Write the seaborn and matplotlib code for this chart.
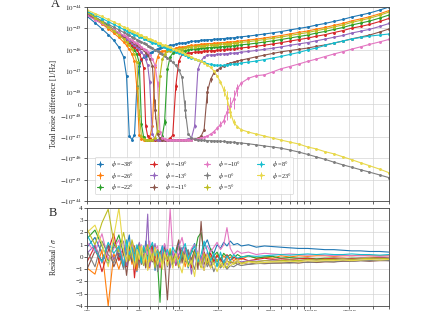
import numpy as np
import pandas as pd
import matplotlib
matplotlib.use("Agg")
import matplotlib.pyplot as plt
import seaborn as sns
from matplotlib.ticker import NullLocator, NullFormatter, FixedLocator, FixedFormatter, LogLocator

# ---------------- data ----------------
freq = [20, 23, 26, 29, 32, 35, 38, 40, 42, 44, 46, 48, 50,
        52, 54, 56, 58, 60, 63, 66, 69, 72, 75, 78, 82, 86,
        90, 95, 100, 106, 112, 118, 125, 132, 140, 148, 156, 165, 175,
        185, 196, 208, 220, 233, 247, 262, 280, 300, 340, 390, 450, 520,
        600, 700, 820, 960, 1120, 1300, 1520, 1780, 2080, 2430, 2840, 3400, 4000]

angles = [-38, -26, -22, -19, -13, -11, -10, 0, 5, 8, 23]
UNIT = 1e-47  # values below are in units of 1e-47 1/Hz

tnd_m38 = [370, 182, 95, 51, 27, 13, 4.5, 0.58, -0.9, -1.3, -0.8, 0.2, 1.7,
           3.3, 4.5, 5.2, 6.2, 7.0, 7.7, 9.6, 11, 12, 13, 13.5, 15, 16,
           16.5, 18, 19.5, 20, 21, 23, 24, 25, 26, 27, 28, 29, 29.5,
           30, 31, 32, 33, 34, 35, 36, 38, 40, 43, 48, 54, 61,
           70, 83, 98, 115, 142, 168, 210, 260, 340, 420, 520, 720, 1000]
tnd_m26 = [520, 278, 160, 97, 60, 37, 22.6, 15.7, 10.4, 6.1, 2.8, 0.15, -0.8,
           -1.2, -1.33, -1.35, -1.3, -1.1, -0.3, 1.5, 4.5, 7.8, 8.5, 8.8, 9.8, 10.4,
           10.7, 11.7, 12.7, 13, 13.7, 15, 15.6, 16.3, 16.9, 17.6, 18.2, 18.9, 19.2,
           19.5, 20, 20.8, 21.5, 22.1, 22.8, 23.4, 24.7, 26, 28, 31, 35, 40,
           45.5, 54, 64, 75, 92, 109, 137, 169, 224, 277, 348, 482, 680]
tnd_m22 = [610, 347, 211, 133, 87, 57, 38, 28.7, 21, 15, 10, 5.9, 2.4,
           -0.25, -1.0, -1.3, -1.36, -1.35, -1.37, -1.34, -1.3, -1.2, -0.9, -0.2, 1.2, 4.5,
           6.9, 7.6, 8.2, 8.4, 8.8, 9.7, 10.1, 10.5, 10.9, 11.3, 11.8, 12.2, 12.4,
           12.6, 13, 13.4, 13.9, 14.3, 14.7, 15.1, 16, 16.8, 18, 20, 22.7, 25.6,
           29.4, 35, 41, 48, 60, 71, 88, 109, 143, 176, 218, 302, 420]
tnd_m19 = [466, 275, 173, 114, 77, 53.5, 36.4, 29, 22.5, 17.2, 13, 9.4, 6.4,
           3.6, 1.4, -0.3, -0.9, -1.2, -1.33, -1.37, -1.36, -1.38, -1.35, -1.36, -1.3, -1.15,
           -0.8, 0.2, 2.8, 6, 6.3, 6.9, 7.2, 7.5, 7.8, 8.1, 8.4, 8.7, 8.85,
           9, 9.3, 9.6, 9.9, 10.2, 10.5, 10.8, 11.4, 12, 12.9, 14.4, 16.2, 18.3,
           21, 25, 29.4, 34.5, 42.6, 50, 63, 78, 102, 122, 151, 209, 290]
tnd_m13 = [442, 268, 171, 115, 80, 56, 40.5, 32.6, 26.4, 21, 16.7, 13.3, 10.3,
           7.7, 5.5, 3.5, 1.8, 0.3, -0.75, -1.2, -1.33, -1.36, -1.38, -1.36, -1.35, -1.37,
           -1.34, -1.36, -1.35, -1.33, -1.3, -1.25, -1.1, -0.3, 1.2, 3.0, 4.5, 5.5, 5.6,
           5.7, 5.9, 6.1, 6.3, 6.5, 6.7, 6.8, 7.2, 7.6, 8.2, 9.1, 10.3, 11.6,
           13.3, 15.8, 18.4, 21.4, 26, 31, 38, 46, 60, 73, 89, 122, 168]
tnd_m11 = [420, 260, 171, 117, 84, 61, 45, 37, 30.4, 25.1, 20.9, 17.2, 14.2,
           11.4, 9.2, 7.1, 5.4, 3.8, 1.75, -0.05, -0.75, -1.15, -1.3, -1.36, -1.38, -1.35,
           -1.37, -1.36, -1.34, -1.36, -1.35, -1.33, -1.3, -1.25, -1.15, -0.9, -0.45, 0.1, 0.4,
           0.8, 1.1, 1.4, 1.7, 2.0, 2.3, 2.6, 2.9, 3.2, 3.8, 4.6, 5.5, 6.6,
           7.8, 9.0, 10.3, 11.8, 14.2, 16.5, 20, 25, 32, 39, 48, 67, 93]
tnd_m10 = [400, 252, 168, 117, 84, 62, 46.6, 39, 32.5, 27.2, 22.9, 19.4, 16.2,
           13.4, 11.2, 9.1, 7.3, 5.7, 3.6, 1.8, 0.26, -0.6, -1.05, -1.25, -1.33, -1.36,
           -1.38, -1.35, -1.37, -1.36, -1.34, -1.33, -1.3, -1.27, -1.2, -1.12, -1.0, -0.88, -0.72,
           -0.55, -0.38, -0.26, -0.17, -0.07, -0.02, 0.04, 0.15, 0.27, 0.45, 0.6, 0.65, 0.9,
           1.25, 1.6, 2.1, 2.8, 3.6, 4.7, 6.2, 8, 10.5, 13.5, 17.5, 23, 30]
tnd_p0 = [520, 330, 220, 155, 112, 84, 64, 54, 46, 39.3, 33.9, 29.7, 25.8,
          22.5, 19.9, 17.5, 15.5, 13.8, 11.6, 9.8, 8.4, 7.1, 6.0, 5.1, 4.1, 3.2,
          2.5, 1.8, 1.13, 0.5, -0.05, -0.7, -1.1, -1.28, -1.36, -1.4, -1.42, -1.45, -1.48,
          -1.5, -1.53, -1.56, -1.6, -1.65, -1.7, -1.75, -1.82, -1.9, -2.05, -2.3, -2.6, -2.9,
          -3.3, -4.0, -5.0, -6.5, -8.5, -11, -15, -20, -26, -34, -44, -60, -80]
tnd_p5 = [576, 318, 188, 118, 74, 48, 30.5, 21.9, 15.8, 10.3, 6.1, 2.6, -0.1,
          -0.9, -1.25, -1.35, -1.38, -1.36, -1.3, -1.1, -0.5, 0.6, 3.5, 6.0, 8.3, 8.8,
          9.1, 9.9, 10.7, 11, 11.6, 12.7, 13.2, 13.8, 14.3, 14.9, 15.4, 16, 16.2,
          16.5, 17, 17.6, 18.2, 18.7, 19.3, 19.8, 20.9, 22, 23.7, 26.4, 29.7, 33.6,
          38.5, 45.7, 54, 63, 78, 92, 116, 143, 190, 235, 296, 410, 580]
tnd_p8 = [615, 421, 288, 208, 151, 115, 88, 74.7, 67, 57, 51, 46, 41,
          37, 33, 29.8, 26.8, 24.1, 21.5, 19.4, 17.3, 15.6, 14, 12.6, 11.2, 10.1,
          9.1, 7.7, 6.9, 5.9, 5.3, 4.7, 4.0, 3.6, 3.1, 2.8, 2.5, 2.2, 2.0,
          1.9, 1.8, 1.8, 1.8, 1.9, 2.0, 2.1, 2.2, 2.35, 2.6, 2.9, 3.4, 4.0,
          4.75, 5.9, 7.3, 9.6, 11.9, 15.6, 20.4, 25.3, 31.3, 37, 43, 48.4, 54]
tnd_p23 = [720, 495, 358, 259, 198, 151, 115, 98, 83, 74.7, 63.5, 57, 51,
           46, 41, 37, 33, 29.8, 26.8, 24.1, 21.5, 19.4, 17.3, 15.6, 14, 12.6,
           11.2, 9.6, 8.6, 7.3, 6.2, 5.3, 4.5, 3.8, 3.3, 2.8, 2.35, 1.9, 1.45,
           1.0, 0.58, 0.3, 0.13, 0.05, -0.07, -0.2, -0.33, -0.45, -0.58, -0.72, -0.89, -1.1,
           -1.37, -1.7, -2.1, -2.9, -3.6, -4.8, -6.1, -8.4, -11.5, -16, -22, -32, -47]

sigma = [0.05, 0.06, 0.06, 0.07, 0.07, 0.09, 0.08, 0.08, 0.06, 0.05, 0.06]

res_m38 = [0.8, 1.6, 0.3, -0.6, 1.2, 0.2, -0.9, 0.7, 1.8, -0.4, 0.5, -1.2, 0.9,
           0.1, -0.7, 1.3, 0.4, -0.3, 0.8, -1.1, 0.6, 0.2, -0.5, 1.0, -0.2, 0.4,
           -0.8, 0.3, 1.2, -0.1, 0.6, -0.9, 0.5, 1.1, 0.2, -0.4, 0.9, 1.4, 0.6,
           0.3, 1.0, 0.7, 1.2, 0.9, 1.3, 1.0, 1.1, 0.9, 1.0, 0.8, 0.9, 0.85,
           0.8, 0.75, 0.7, 0.7, 0.65, 0.6, 0.6, 0.55, 0.5, 0.5, 0.45, 0.45, 0.4]
res_m26 = [-0.9, -1.4, 0.6, -4.0, 0.3, -1.0, 0.4, -0.3, 0.9, -0.6, 0.2, -1.1, 0.5,
           -0.2, 0.8, -0.5, 0.3, -0.9, 0.6, -0.1, 0.4, -0.7, 0.2, 0.5, -0.4, 0.1,
           -0.6, 0.3, -0.2, 0.5, -0.8, 0.2, -0.3, 0.4, -0.5, -0.1, 0.3, -0.6, 0.1,
           -0.3, 0.2, -0.4, 0.1, -0.2, 0.0, -0.3, -0.1, -0.2, 0.1, -0.1, 0.0, -0.1,
           0.1, 0.0, 0.1, 0.05, 0.1, 0.1, 0.05, 0.1, 0.1, 0.15, 0.1, 0.1, 0.1]
res_m22 = [1.5, 2.2, 0.9, -0.3, 0.8, 1.8, 0.2, -0.5, 0.9, 0.3, -0.8, 0.6, 1.1,
           -0.4, 0.7, 0.2, -0.9, 0.5, 1.0, 0.4, -0.6, -3.7, 0.8, 0.1, -0.3, 0.5,
           -0.7, 0.3, 0.9, -0.2, 0.4, -0.8, 0.6, 0.2, 1.6, 2.0, 0.3, -0.5, 0.7,
           0.1, 0.4, -0.2, 0.3, 0.0, 0.2, -0.1, 0.2, 0.0, 0.1, -0.1, 0.0, 0.05,
           -0.1, -0.05, -0.1, -0.1, -0.15, -0.1, -0.1, -0.15, -0.1, -0.1, -0.1, -0.05, -0.1]
res_m19 = [-0.4, 0.9, -1.2, 0.5, 1.9, -0.3, 0.7, -0.8, 0.4, 1.0, -1.7, 0.3, -0.5,
           0.8, -0.2, 0.5, -1.0, 0.3, 0.9, -0.6, 0.2, -0.9, 0.4, 0.7, -0.3, 0.1,
           0.5, -0.7, 0.2, 0.6, -0.4, 0.3, -0.9, 0.5, 0.1, -0.3, 0.4, -0.2, 0.3,
           -0.4, 0.1, -0.2, -0.5, 0.2, -0.3, 0.0, -0.2, -0.1, -0.3, -0.2, -0.1, -0.2,
           -0.15, -0.2, -0.15, -0.1, -0.2, -0.15, -0.1, -0.1, -0.15, -0.1, -0.1, -0.05, -0.1]
res_m13 = [0.3, 1.0, -0.5, 0.9, -0.2, 0.6, 1.3, -0.7, 0.4, -0.1, 0.8, -0.4, 1.2,
           0.5, -0.3, 0.6, 3.5, -0.8, 0.2, 1.1, -0.5, 0.3, 0.9, -0.2, 0.6, -0.9,
           0.4, -0.6, 0.2, 0.8, -0.3, 0.5, -1.4, 0.3, -0.7, 0.1, -1.1, 0.4, -0.8,
           -0.5, -0.2, -0.7, -0.3, -0.6, -0.4, -0.5, -0.3, -0.4, -0.3, -0.35, -0.3, -0.25,
           -0.3, -0.25, -0.3, -0.2, -0.25, -0.2, -0.2, -0.15, -0.2, -0.15, -0.15, -0.1, -0.1]
res_m11 = [-1.0, 0.5, -0.3, 1.0, -0.8, 0.2, 0.6, -1.5, 0.3, -0.4, 0.9, -0.2, 0.4,
           -0.6, 0.2, -0.9, 0.5, 0.1, -0.4, 0.7, -0.3, 0.4, 0.6, -0.5, -3.5, 0.2,
           -0.3, 0.5, 1.4, -0.5, 0.8, 0.4, -0.2, 0.6, -1.0, 2.9, -0.6, -0.2, -0.9,
           0.2, -0.4, -0.1, -0.6, -0.3, -0.5, -0.4, -0.6, -0.5, -0.6, -0.5, -0.55, -0.5,
           -0.5, -0.45, -0.5, -0.4, -0.45, -0.4, -0.4, -0.35, -0.35, -0.3, -0.35, -0.3, -0.3]
res_m10 = [1.2, 0.4, 1.9, -0.2, 0.7, 1.4, -0.6, 0.9, 0.2, 1.1, -0.4, 0.6, 0.3,
           1.0, -0.5, 0.8, 0.2, 1.3, -0.3, 0.6, 0.9, -0.7, 0.4, 1.1, 0.2, 3.9,
           0.5, -0.4, 0.8, 1.6, 0.3, -0.2, 0.7, 1.0, 0.2, -0.5, 0.6, 0.9, 0.4,
           0.8, 1.2, 0.6, 1.0, 2.4, 0.7, 0.2, 0.5, 0.3, 0.4, 0.2, 0.3, 0.25,
           0.2, 0.25, 0.2, 0.15, 0.2, 0.15, 0.1, 0.15, 0.1, 0.1, 0.1, 0.05, 0.1]
res_p0 = [0.5, -0.8, 1.3, 0.2, -0.5, 0.9, -1.0, 0.4, -0.2, 0.7, -0.6, 0.3, -0.9,
          0.6, -0.3, 0.2, -0.7, 0.5, -0.2, 0.8, -1.2, 0.3, -0.4, 0.6, -0.8, 0.1,
          -0.5, 0.4, -0.9, 0.2, -0.4, 0.6, -0.3, -1.0, 0.3, -0.6, 0.1, -0.8, -0.3,
          -1.2, -0.5, -0.9, -0.6, -1.0, -0.7, -0.8, -0.6, -0.7, -0.6, -0.55, -0.5, -0.5,
          -0.45, -0.5, -0.4, -0.45, -0.4, -0.35, -0.4, -0.3, -0.35, -0.3, -0.3, -0.25, -0.3]
res_p5 = [2.3, 1.0, 2.8, 3.9, 1.2, 0.4, 2.0, 0.8, -0.3, 1.4, 0.6, -0.5, 0.9,
          0.2, -0.7, 0.5, 1.0, -0.4, 0.3, -0.9, 0.6, 0.1, -0.6, 0.4, -0.2, 0.7,
          -0.4, 0.2, -0.8, 0.5, -0.3, 0.1, -0.6, 0.4, -0.2, -0.9, 0.3, -0.5, 0.0,
          -0.6, -0.2, -0.8, -0.4, -0.9, -0.3, -0.6, -0.4, -0.5, -0.35, -0.4, -0.3, -0.35,
          -0.3, -0.25, -0.3, -0.2, -0.25, -0.2, -0.2, -0.15, -0.2, -0.15, -0.1, -0.1, -0.15]
res_p8 = [1.8, 0.6, -0.4, 1.2, 0.3, 0.9, -0.7, 1.4, 0.2, 0.8, -0.3, 1.0, 0.4,
          -0.5, 0.9, 0.3, -0.2, 0.7, 1.2, 0.1, 0.5, -0.4, 0.9, 0.2, 0.6, -0.1,
          0.8, 0.3, -0.6, 0.5, 1.1, -0.2, 0.4, 0.9, -0.4, 0.2, 1.3, 0.5, -0.3,
          0.3, -0.8, 0.4, -0.5, 0.1, -0.3, 0.2, -0.1, 0.0, 0.1, 0.05, 0.1, 0.15,
          0.2, 0.15, 0.2, 0.25, 0.2, 0.25, 0.2, 0.2, 0.25, 0.2, 0.2, 0.15, 0.2]
res_p23 = [2.0, 2.6, 1.1, -0.8, 1.7, 4.0, 0.5, -0.4, 1.2, 0.3, -0.9, 0.6, -0.2,
           0.9, -0.5, 0.3, -1.1, 0.6, -0.3, 0.8, -0.6, 0.2, -1.0, 0.4, -0.7, 0.1,
           -0.9, 0.3, -0.5, -1.3, 0.2, -0.8, -0.3, -1.6, 0.4, -0.6, -1.1, 0.2, -0.9,
           -0.5, -1.2, -0.4, -0.9, -0.3, -0.7, -0.5, -0.2, -0.6, -0.4, -0.5, -0.45, -0.4,
           -0.4, -0.35, -0.4, -0.3, -0.35, -0.3, -0.3, -0.25, -0.3, -0.25, -0.2, -0.25, -0.2]

tnd = [tnd_m38, tnd_m26, tnd_m22, tnd_m19, tnd_m13, tnd_m11, tnd_m10,
       tnd_p0, tnd_p5, tnd_p8, tnd_p23]
res = [res_m38, res_m26, res_m22, res_m19, res_m13, res_m11, res_m10,
       res_p0, res_p5, res_p8, res_p23]

xticks = [20, 50, 100, 200, 500, 1000, 2000]
xticklabels = ["20", "50", "100", "200", "500", "1000", "2000"]
yticks_a = [-1e-44, -1e-45, -1e-46, -1e-47, -1e-48, 0, 1e-48, 1e-47, 1e-46, 1e-45, 1e-44]
yticklabels_a = [r"$-10^{-44}$", r"$-10^{-45}$", r"$-10^{-46}$", r"$-10^{-47}$", r"$-10^{-48}$",
                 r"$0$", r"$10^{-48}$", r"$10^{-47}$", r"$10^{-46}$", r"$10^{-45}$", r"$10^{-44}$"]

colors = ["#1f77b4", "#ff7f0e", "#2ca02c", "#d62728", "#9467bd", "#8c564b",
          "#e377c2", "#7f7f7f", "#bcbd22", "#17becf", "#e8d84a"]

# ---------------- style ----------------
sns.set_theme(style="whitegrid")
plt.rcParams["font.family"] = ["Liberation Serif", "DejaVu Serif"]
plt.rcParams["mathtext.fontset"] = "stix"
plt.rcParams["axes.edgecolor"] = "#444444"
plt.rcParams["axes.linewidth"] = 0.6
plt.rcParams["grid.color"] = "#d4d4d4"
plt.rcParams["grid.linewidth"] = 0.5

labels = [r"$\phi$ =" + (f"−{abs(a)}°" if a < 0 else f"{a}°") for a in angles]

fig = plt.figure(figsize=(4.46, 3.11), dpi=100)
axA = fig.add_axes([0.1951, 0.3537, 0.6771, 0.6238])
axB = fig.add_axes([0.1951, 0.0161, 0.6771, 0.3151])

# ---------------- panel A ----------------
f_arr = np.array(freq, dtype=float)
for vals, sig, col, lab in zip(tnd, sigma, colors, labels):
    v = np.array(vals, dtype=float) * UNIT
    axA.errorbar(f_arr, v, yerr=sig * UNIT, fmt=".-", color=col, ms=2.2,
                 lw=0.8, elinewidth=0.7, capsize=0, label=lab)

axA.set_xscale("log")
axA.set_yscale("symlog", linthresh=1e-48, linscale=0.5)
axA.set_xlim(20, 4000)
axA.set_ylim(-1e-44, 1e-44)
axA.yaxis.set_major_locator(FixedLocator(yticks_a))
axA.yaxis.set_major_formatter(FixedFormatter(yticklabels_a))
axA.yaxis.set_minor_locator(NullLocator())
axA.xaxis.set_major_locator(FixedLocator(xticks))
axA.xaxis.set_minor_locator(LogLocator(base=10, subs=np.arange(2, 10)))
axA.tick_params(axis="x", which="both", labelbottom=False)
axA.grid(True, which="major", axis="both")
axA.grid(True, which="minor", axis="x")
axA.set_ylabel("Total noise difference [1/Hz]", fontsize=5.5)
axA.yaxis.set_label_coords(-0.096, 0.5)
axA.tick_params(axis="both", which="both", labelsize=5, length=2, width=0.5, pad=1.5,
                direction="out", left=True, bottom=True)

leg = axA.legend(ncol=4, loc="lower left", bbox_to_anchor=(0.015, 0.02),
                 fontsize=4.5, frameon=True, handlelength=1.0, columnspacing=2.6,
                 labelspacing=0.2, borderpad=0.35, handletextpad=1.3, handleheight=0.6)
leg.get_frame().set_linewidth(0.5)
leg.get_frame().set_edgecolor("#cccccc")

# ---------------- panel B ----------------
rows = []
for lab, r in zip(labels, res):
    for fv, rv in zip(freq, r):
        rows.append({"freq": fv, "res": rv, "phi": lab})
df = pd.DataFrame(rows)
sns.lineplot(data=df, x="freq", y="res", hue="phi", hue_order=labels,
             palette=colors, lw=0.8, legend=False, ax=axB, errorbar=None)
axB.set_xscale("log")
axB.set_xlim(20, 4000)
axB.set_ylim(-4, 4)
axB.set_yticks([-4, -3, -2, -1, 0, 1, 2, 3, 4])
axB.xaxis.set_major_locator(FixedLocator(xticks))
axB.xaxis.set_major_formatter(FixedFormatter(xticklabels))
axB.xaxis.set_minor_locator(LogLocator(base=10, subs=np.arange(2, 10)))
axB.xaxis.set_minor_formatter(NullFormatter())
axB.grid(True, which="major", axis="both")
axB.grid(True, which="minor", axis="x")
axB.set_xlabel("")
axB.set_ylabel("Residual / $\\sigma$", fontsize=5.5)
axB.yaxis.set_label_coords(-0.096, 0.5)
axB.tick_params(axis="both", which="both", labelsize=5, length=2, width=0.5, pad=1.0,
                direction="out", left=True, bottom=True)

fig.text(55 / 446, 1 - 4 / 311, "A", fontsize=9, ha="center", va="center")
fig.text(53 / 446, 1 - 213 / 311, "B", fontsize=9, ha="center", va="center")

fig.savefig("out.png", dpi=100)
